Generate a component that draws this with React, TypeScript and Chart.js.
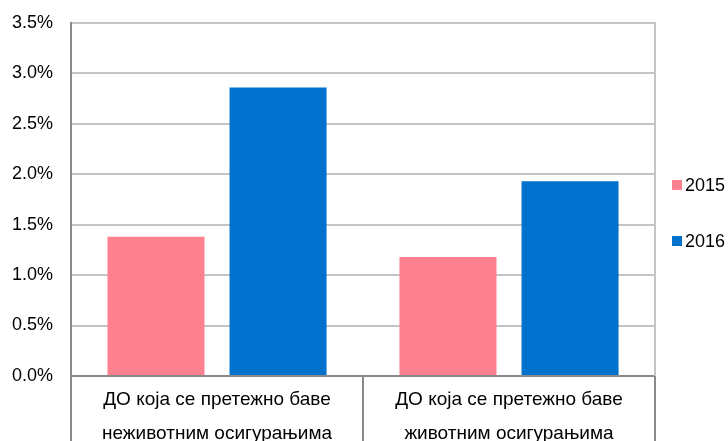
import React, { useEffect, useRef } from "react";
import { Chart, registerables } from "chart.js";

Chart.register(...registerables);

const categories: string[][] = [
  ["ДО која се претежно баве", "неживотним осигурањима"],
  ["ДО која се претежно баве", "животним осигурањима"],
];
const seriesNames = ["2015", "2016"];
const values2015 = [1.38, 1.18];
const values2016 = [2.86, 1.93];
const yTicks = [0, 0.5, 1, 1.5, 2, 2.5, 3, 3.5];
const colors = ["#FF808F", "#0072CE"];

const FONT = "'Liberation Sans', Arial, sans-serif";

const separators = {
  id: "separators",
  afterDraw(chart: any) {
    const { ctx, chartArea } = chart;
    const xs = chart.scales.x;
    const n = xs.ticks.length;
    const step = n > 1 ? xs.getPixelForValue(1) - xs.getPixelForValue(0) : chartArea.right - chartArea.left;
    ctx.save();
    ctx.strokeStyle = "#c4c4c4";
    ctx.lineWidth = 2;
    ctx.beginPath();
    ctx.moveTo(chartArea.right, chartArea.top - 1);
    ctx.lineTo(chartArea.right, chartArea.bottom);
    ctx.stroke();
    ctx.strokeStyle = "#8a8a8a";
    ctx.lineWidth = 2;
    for (let i = 0; i <= n; i++) {
      const x = xs.getPixelForValue(0) - step / 2 + i * step;
      ctx.beginPath();
      ctx.moveTo(x, chartArea.bottom);
      ctx.lineTo(x, chart.height);
      ctx.stroke();
    }
    ctx.restore();
  },
};

export default function App() {
  const ref = useRef<HTMLCanvasElement | null>(null);

  useEffect(() => {
    if (!ref.current) return;
    const chart = new Chart(ref.current, {
      type: "bar",
      data: {
        labels: categories,
        datasets: [
          {
            label: seriesNames[0],
            data: values2015,
            backgroundColor: colors[0],
            categoryPercentage: 0.836,
            barPercentage: 0.795,
          },
          {
            label: seriesNames[1],
            data: values2016,
            backgroundColor: colors[1],
            categoryPercentage: 0.836,
            barPercentage: 0.795,
          },
        ],
      },
      options: {
        animation: false,
        responsive: false,
        maintainAspectRatio: false,
        layout: { padding: { left: -6, top: 0, right: 73, bottom: 0 } },
        plugins: {
          legend: { display: false },
          tooltip: { enabled: false },
        },
        scales: {
          x: {
            offset: true,
            grid: {
              offset: true,
              drawOnChartArea: false,
              drawTicks: false,
            },
            border: { color: "#8a8a8a", width: 2 },
            ticks: {
              padding: 7,
              color: "#000",
              maxRotation: 0,
              autoSkip: false,
              font: { family: FONT, size: 19, lineHeight: 1.79 },
            },
          },
          y: {
            min: 0,
            max: 3.5,
            afterBuildTicks: (axis: any) => {
              axis.ticks = yTicks.map((v) => ({ value: v }));
            },
            grid: {
              color: "#c4c4c4",
              lineWidth: 2,
              drawTicks: false,
            },
            border: { color: "#8a8a8a", width: 2 },
            ticks: {
              padding: 18,
              color: "#000",
              font: { family: FONT, size: 18 },
              callback: (v: any) => Number(v).toFixed(1) + "%",
            },
          },
        },
      },
      plugins: [separators],
    });
    return () => chart.destroy();
  }, []);

  const legendItem = (i: number, top: number) => (
    <div
      key={i}
      style={{
        position: "absolute",
        left: 672,
        top,
        height: 20,
        display: "flex",
        alignItems: "center",
        fontFamily: FONT,
        fontSize: 18,
        color: "#000",
        lineHeight: "20px",
      }}
    >
      <span style={{ width: 10, height: 10, background: colors[i], marginRight: 3, display: "inline-block" }} />
      <span>{seriesNames[i]}</span>
    </div>
  );

  return (
    <div
      style={{
        position: "absolute",
        left: 0,
        top: 0,
        width: 728,
        height: 441,
        overflow: "hidden",
        background: "#fff",
      }}
    >
      <canvas ref={ref} width={728} height={464} style={{ display: "block", marginTop: -6 }} />
      {legendItem(0, 175)}
      {legendItem(1, 231)}
    </div>
  );
}
